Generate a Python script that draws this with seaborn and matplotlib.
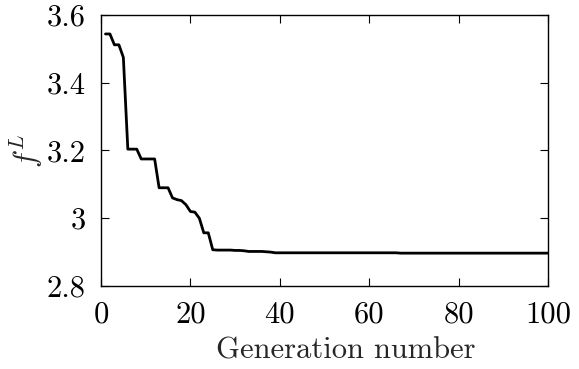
import matplotlib
matplotlib.use("Agg")
import matplotlib.pyplot as plt
import seaborn as sns
import pandas as pd

generations = list(range(1, 101))
f_L = [
    3.544, 3.544, 3.512, 3.512, 3.475, 3.204, 3.204, 3.204, 3.175, 3.175,
    3.175, 3.175, 3.090, 3.090, 3.090, 3.060, 3.055, 3.052, 3.040, 3.020,
    3.018, 3.000, 2.957, 2.957, 2.907, 2.906, 2.906, 2.906, 2.906, 2.905,
    2.905, 2.904, 2.902, 2.902, 2.902, 2.902, 2.901, 2.900, 2.898, 2.898,
    2.898, 2.898, 2.898, 2.898, 2.898, 2.898, 2.898, 2.898, 2.898, 2.898,
    2.898, 2.898, 2.898, 2.898, 2.898, 2.898, 2.898, 2.898, 2.898, 2.898,
    2.898, 2.898, 2.898, 2.898, 2.898, 2.898, 2.897, 2.897, 2.897, 2.897,
    2.897, 2.897, 2.897, 2.897, 2.897, 2.897, 2.897, 2.897, 2.897, 2.897,
    2.897, 2.897, 2.897, 2.897, 2.897, 2.897, 2.897, 2.897, 2.897, 2.897,
    2.897, 2.897, 2.897, 2.897, 2.897, 2.897, 2.897, 2.897, 2.897, 2.897,
]
x_ticks = [0, 20, 40, 60, 80, 100]
y_ticks = [2.8, 3.0, 3.2, 3.4, 3.6]
y_tick_labels = ["2.8", "3", "3.2", "3.4", "3.6"]

df = pd.DataFrame({"gen": generations, "fL": f_L})

sns.set_style("ticks")
plt.rcParams["font.family"] = "serif"
plt.rcParams["font.serif"] = ["cmr10", "DejaVu Serif"]
plt.rcParams["mathtext.fontset"] = "cm"
plt.rcParams["axes.formatter.use_mathtext"] = True

fig = plt.figure(figsize=(5.79, 3.69), dpi=100)
ax = fig.add_axes([101/579, 1 - 286/369, 447/579, 271/369])
sns.lineplot(data=df, x="gen", y="fL", ax=ax, color="black", linewidth=2.0)

ax.set_xlim(0, 100)
ax.set_ylim(2.8, 3.6)
ax.set_xticks(x_ticks)
ax.set_xticklabels([str(t) for t in x_ticks])
ax.set_yticks(y_ticks)
ax.set_yticklabels(y_tick_labels)
ax.tick_params(direction="in", length=6, width=0.8, labelsize=22,
               top=True, right=True, pad=11, colors="black")
for s in ax.spines.values():
    s.set_linewidth(1.0)
    s.set_color("black")

ax.set_xlabel("Generation number", fontsize=22)
ax.xaxis.set_label_coords(0.548, -0.19)
ax.set_ylabel(r"$f^L$", fontsize=22)
ax.yaxis.set_label_coords(-0.125, 0.5)

fig.savefig("out.png", dpi=100)
